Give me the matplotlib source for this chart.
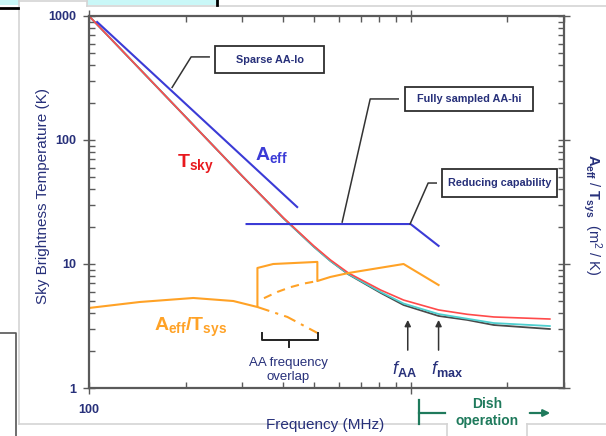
import matplotlib.pyplot as plt
from matplotlib.patches import Rectangle
from matplotlib.lines import Line2D

plt.rcParams['font.family'] = ['Liberation Sans', 'DejaVu Sans']
plt.rcParams['mathtext.fontset'] = 'custom'
plt.rcParams['mathtext.rm'] = 'Liberation Sans'
plt.rcParams['mathtext.it'] = 'Liberation Sans:italic'
plt.rcParams['mathtext.bf'] = 'Liberation Sans:bold'

NAVY = '#27307a'
RED = '#ff4a4a'
BLUE = '#3b3bd6'
ORANGE = '#ffa226'
GREEN = '#1f7a5c'
SPINE = '#5a5a5a'

# sky temperature curves (MHz, K)
freq_sky = [100, 200, 300, 403, 500, 563, 641, 807, 951, 1222, 1500, 1815, 2711]
t_sky_red = [1000, 153, 51, 23.5, 14.0, 10.8, 8.46, 6.17, 5.12, 4.26, 3.93, 3.74, 3.60]
t_sky_cyan = [1000, 153, 51, 23.3, 13.8, 10.6, 8.3, 5.95, 4.8, 3.95, 3.62, 3.34, 3.16]
t_sky_gray = [1000, 153, 51, 23.3, 13.8, 10.6, 8.25, 5.85, 4.67, 3.81, 3.54, 3.22, 2.99]

# effective area, low and high band
aeff_lo_f = [106, 444]
aeff_lo = [895, 28.8]
aeff_hi_f = [309, 1000, 1222]
aeff_hi = [21.0, 21.0, 14.0]

# sensitivity Aeff/Tsys
ratio_f = [100, 144, 211, 281, 334, 334, 374, 513, 513, 563, 641, 699, 951, 1222]
ratio = [4.42, 4.94, 5.32, 5.03, 4.5, 9.29, 10.0, 10.4, 7.29, 7.86, 8.46, 8.78, 10.0, 6.77]
ratio_hi_ext_f = [350, 385, 423, 465, 513]
ratio_hi_ext = [5.3, 5.95, 6.5, 6.95, 7.29]
ratio_lo_ext_f = [334, 414, 513]
ratio_lo_ext = [4.5, 3.74, 2.78]

f_aa = 980
f_max = 1222
overlap = [346, 517]

W, H = 606, 436
fig = plt.figure(figsize=(W / 100, H / 100), dpi=100)


def fx(x):
    return x / W


def fy(y):
    return 1 - y / H


# slide background pieces
fig.patches.append(Rectangle((0, fy(5)), fx(216), 5 / H, transform=fig.transFigure,
                             fc='#c9f7f7', ec='none'))
fig.patches.append(Rectangle((fx(19), fy(5)), fx(68), 5 / H, transform=fig.transFigure,
                             fc='white', ec='none'))
frame = dict(transform=fig.transFigure, color='#d4d4d4', lw=1.2)
fig.lines += [
    Line2D([fx(19), fx(19)], [fy(1), fy(424)], **frame),
    Line2D([fx(19), fx(87)], [fy(1), fy(1)], **frame),
    Line2D([fx(87), fx(87)], [fy(1), fy(6)], **frame),
    Line2D([fx(87), 1], [fy(6), fy(6)], **frame),
    Line2D([fx(19), fx(447)], [fy(424), fy(424)], **frame),
    Line2D([fx(447), fx(447)], [fy(424), 0], **frame),
    Line2D([fx(527), fx(527)], [fy(424), 0], **frame),
    Line2D([fx(527), 1], [fy(424), fy(424)], **frame),
    Line2D([0, fx(18)], [fy(8), fy(8)], transform=fig.transFigure, color='black', lw=2),
    Line2D([fx(217), fx(217)], [1, fy(5)], transform=fig.transFigure, color='black', lw=2),
    Line2D([0, fx(16), fx(16)], [fy(333), fy(333), 0], transform=fig.transFigure,
           color='#555555', lw=1.2),
]

ax = fig.add_axes([fx(89), fy(388), 475 / W, 372 / H])
ax.set_xscale('log')
ax.set_yscale('log')
ax.set_xlim(100, 3000)
ax.set_ylim(1, 1000)

ax.plot(freq_sky, t_sky_gray, color='#4a4a4a', lw=1.3)
ax.plot(freq_sky, t_sky_cyan, color='#4fcfcf', lw=1.3)
ax.plot(freq_sky, t_sky_red, color=RED, lw=1.2)

ax.plot(aeff_lo_f, aeff_lo, color=BLUE, lw=1.5)
ax.plot(aeff_hi_f, aeff_hi, color=BLUE, lw=1.5)

ax.plot(ratio_f, ratio, color=ORANGE, lw=1.5)
ax.plot(ratio_hi_ext_f, ratio_hi_ext, color=ORANGE, lw=1.5, ls=(0, (4, 3)))
ax.plot(ratio_lo_ext_f, ratio_lo_ext, color=ORANGE, lw=1.5, ls=(0, (6, 3, 1.5, 3)))

# ticks
ax.set_xticks([100, 1000])
ax.set_xticklabels(['100', ''])
ax.set_xticks([200, 300, 400, 500, 600, 700, 800, 900, 2000, 3000], minor=True)
ax.xaxis.set_minor_formatter(plt.NullFormatter())
ax.set_yticks([1, 10, 100, 1000])
ax.set_yticklabels(['1', '10', '100', '1000'])
ax.yaxis.set_minor_formatter(plt.NullFormatter())
ax.tick_params(which='both', top=True, right=True, color=SPINE, width=1,
               labelcolor=NAVY, labelsize=9)
ax.tick_params(which='major', direction='inout', length=9)
ax.tick_params(which='minor', direction='in', length=4)
ax.tick_params(axis='x', pad=7)
ax.tick_params(axis='y', pad=5)
for lab in ax.get_xticklabels() + ax.get_yticklabels():
    lab.set_fontweight('bold')
for sp in ax.spines.values():
    sp.set_color(SPINE)
    sp.set_linewidth(1.6)

fig.text(fx(43), fy(196), 'Sky Brightness Temperature (K)', rotation=90,
         ha='center', va='center', color=NAVY, fontsize=11)
fig.text(fx(325), fy(425), 'Frequency (MHz)', ha='center', va='center',
         color=NAVY, fontsize=11)
fig.text(fx(592), fy(215), r'$\mathbf{A_{eff}}$ / $\mathbf{T_{sys}}$  (m$^2$ / K)',
         rotation=270, ha='center', va='center', color=NAVY, fontsize=10.5)

# curve labels
ax.text(0.225, 0.600, r'$\mathbf{T_{sky}}$', transform=ax.transAxes, color='#e8191e',
        fontsize=14, ha='center', va='center')
ax.text(0.385, 0.626, r'$\mathbf{A_{eff}}$', transform=ax.transAxes, color=BLUE,
        fontsize=14, ha='center', va='center')
ax.text(0.213, 0.164, r'$\mathbf{A_{eff}/T_{sys}}$', transform=ax.transAxes,
        color=ORANGE, fontsize=14, ha='center', va='center')

# boxed callouts with leader lines (axes fractions)
callouts = [
    ('Sparse AA-lo', (0.265, 0.847, 0.495, 0.919),
     [(0.253, 0.890), (0.215, 0.890), (0.175, 0.808)]),
    ('Fully sampled AA-hi', (0.665, 0.745, 0.935, 0.809),
     [(0.651, 0.777), (0.592, 0.777), (0.533, 0.446)]),
    ('Reducing capability', (0.743, 0.513, 0.985, 0.589),
     [(0.731, 0.551), (0.714, 0.551), (0.676, 0.441)]),
]
for text, (x0, y0, x1, y1), leader in callouts:
    ax.add_patch(Rectangle((x0, y0), x1 - x0, y1 - y0, transform=ax.transAxes,
                           fc='white', ec='#2e2e2e', lw=1.3, zorder=4))
    ax.text((x0 + x1) / 2, (y0 + y1) / 2, text, transform=ax.transAxes, ha='center',
            va='center', color=NAVY, fontsize=7.8, fontweight='bold', zorder=5)
    xs, ys = zip(*leader)
    ax.plot(xs, ys, transform=ax.transAxes, color='#333333', lw=1.1)

# frequency overlap bracket
ax.plot([overlap[0], overlap[0], overlap[1], overlap[1]], [2.78, 2.44, 2.44, 2.78],
        color='#222222', lw=1.4)
ax.plot([420, 420], [2.44, 2.14], color='#222222', lw=1.4)
ax.text(0.419, 0.048, 'AA frequency\noverlap', transform=ax.transAxes, ha='center',
        va='center', color=NAVY, fontsize=9.5, linespacing=1.15)

# band limit arrows
for f in (f_aa, f_max):
    ax.annotate('', xy=(f, 3.54), xytext=(f, 2.02),
                arrowprops=dict(arrowstyle='-|>', color='#333333', lw=1.1,
                                mutation_scale=9, shrinkA=0, shrinkB=0))
ax.text(0.665, 0.052, r'$\mathit{f}_{\mathbf{AA}}$', transform=ax.transAxes,
        ha='center', va='center', color=NAVY, fontsize=13)
ax.text(0.754, 0.052, r'$\mathit{f}_{\mathbf{max}}$', transform=ax.transAxes,
        ha='center', va='center', color=NAVY, fontsize=13)

# dish operation marker below the axis
green = dict(transform=fig.transFigure, color=GREEN, lw=1.6)
fig.lines += [
    Line2D([fx(419), fx(419)], [fy(400), fy(424)], **green),
    Line2D([fx(419), fx(445)], [fy(413), fy(413)], **green),
]
fig.patches.append(plt.matplotlib.patches.FancyArrowPatch(
    (fx(527), fy(413)), (fx(553), fy(413)), transform=fig.transFigure,
    arrowstyle='-|>', mutation_scale=10, color=GREEN, lw=1.6))
fig.text(fx(487), fy(404), 'Dish', ha='center', va='center', color=GREEN,
         fontsize=10, fontweight='bold')
fig.text(fx(487), fy(421), 'operation', ha='center', va='center', color=GREEN,
         fontsize=10, fontweight='bold')

fig.savefig('out.png', dpi=100)
